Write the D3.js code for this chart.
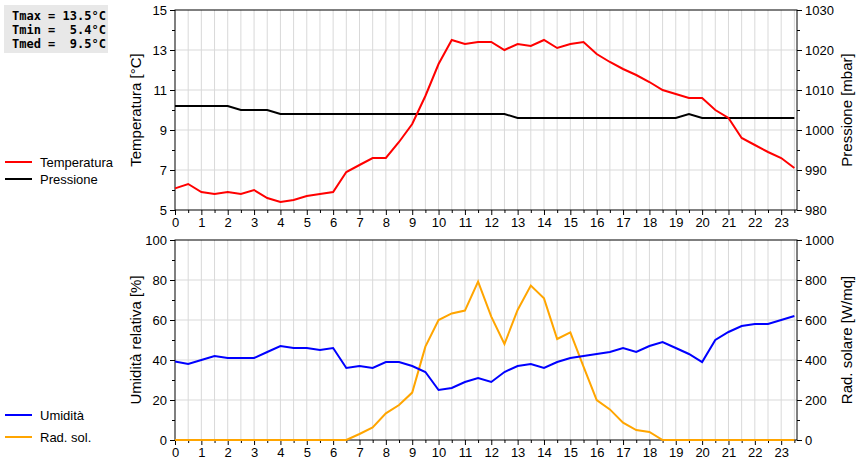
<!DOCTYPE html>
<html><head><meta charset="utf-8">
<script src="https://cdn.jsdelivr.net/npm/d3@7"></script>
<style>body{margin:0;background:#fff}svg{font-family:"Liberation Sans",Arial,sans-serif}</style>
</head><body><svg id="c" width="860" height="460"></svg>
<script>
const hours = d3.range(0, 24, 0.5);
const temperature = [6.08,6.3,5.9,5.8,5.9,5.8,6.0,5.6,5.4,5.5,5.7,5.8,5.9,6.9,7.25,7.6,7.6,8.4,9.3,10.7,12.3,13.5,13.3,13.4,13.4,13.0,13.3,13.2,13.5,13.1,13.3,13.4,12.8,12.4,12.05,11.75,11.4,11.0,10.8,10.6,10.6,10.0,9.6,8.6,8.25,7.9,7.6,7.1];
const pressure = [1006,1006,1006,1006,1006,1005,1005,1005,1004,1004,1004,1004,1004,1004,1004,1004,1004,1004,1004,1004,1004,1004,1004,1004,1004,1004,1003,1003,1003,1003,1003,1003,1003,1003,1003,1003,1003,1003,1003,1004,1003,1003,1003,1003,1003,1003,1003,1003];
const humidity = [39.2,38,40,42,41,41,41,44,47,46,46,45,46,36,37,36,39,39,37,34,25,26,29,31,29,34,37,38,36,39,41,42,43,44,46,44,47,49,46,43,39,50,54,57,58,58,60,62];
const solar = [0,0,0,0,0,0,0,0,0,0,0,0,0,0,30,63,133,175,237,467,600,633,647,792,617,480,650,772,708,505,538,367,200,153,87,50,40,0,0,0,0,0,0,0,0,0,0,0];
const xTicks = d3.range(0, 24);
const statsLines = ["Tmax = 13.5°C","Tmin =  5.4°C","Tmed =  9.5°C"];

const svg = d3.select("#c");
const L = 175, R = 797;
const x = d3.scaleLinear().domain([0, 23.6]).range([L, R]);

function panel(top, bottom, ld, rd, lMajor, lMinor, rMajor, rMinor, lTitle, rTitle, series, legend) {
  const yl = d3.scaleLinear().domain(ld).range([bottom, top]);
  const yr = d3.scaleLinear().domain(rd).range([bottom, top]);
  const g = svg.append("g");
  g.selectAll(".vg").data(d3.range(0.5, 23.6, 0.5)).join("line")
    .attr("x1", d => x(d)).attr("x2", d => x(d)).attr("y1", top).attr("y2", bottom)
    .attr("stroke", "#d9d9d9");
  g.selectAll(".hg").data(lMajor.slice(1, -1)).join("line")
    .attr("x1", L).attr("x2", R).attr("y1", d => yl(d)).attr("y2", d => yl(d))
    .attr("stroke", "#d9d9d9");
  g.append("g").attr("transform", `translate(0,${bottom})`)
    .call(d3.axisBottom(x).tickValues(xTicks).tickSize(5).tickFormat(d3.format("d")));
  g.append("g").attr("transform", `translate(0,${bottom})`)
    .call(d3.axisBottom(x).tickValues(d3.range(0.5, 23.6, 1)).tickSize(3).tickFormat(""));
  g.append("g").attr("transform", `translate(${L},0)`)
    .call(d3.axisLeft(yl).tickValues(lMajor).tickSize(5).tickFormat(d3.format("d")));
  g.append("g").attr("transform", `translate(${L},0)`)
    .call(d3.axisLeft(yl).tickValues(lMinor).tickSize(3).tickFormat(""));
  g.append("g").attr("transform", `translate(${R},0)`)
    .call(d3.axisRight(yr).tickValues(rMajor).tickSize(5).tickFormat(d3.format("d")));
  g.append("g").attr("transform", `translate(${R},0)`)
    .call(d3.axisRight(yr).tickValues(rMinor).tickSize(3).tickFormat(""));
  g.selectAll(".domain").remove();
  g.selectAll(".tick text").attr("font-size", 13).attr("fill", "#000")
    .attr("font-family", "Liberation Sans, Arial, sans-serif");
  g.append("rect").attr("x", L).attr("y", top).attr("width", R - L).attr("height", bottom - top)
    .attr("fill", "none").attr("stroke", "#000");
  series.forEach(s => {
    const y = s.right ? yr : yl;
    g.append("path").datum(s.data)
      .attr("d", d3.line().x((d, i) => x(hours[i])).y(d => y(d)))
      .attr("fill", "none").attr("stroke", s.color).attr("stroke-width", 2);
  });
  const mid = (top + bottom) / 2;
  g.append("text").attr("transform", `translate(141,${mid}) rotate(-90)`).attr("text-anchor", "middle")
    .attr("font-size", 15).text(lTitle);
  g.append("text").attr("transform", `translate(852,${mid}) rotate(-90)`).attr("text-anchor", "middle")
    .attr("font-size", 15).text(rTitle);
  legend.forEach(lg => {
    g.append("line").attr("x1", 5).attr("x2", 32).attr("y1", lg.y).attr("y2", lg.y)
      .attr("stroke", lg.color).attr("stroke-width", 2);
    g.append("text").attr("x", 40).attr("y", lg.y + 5).attr("font-size", 13).text(lg.label);
  });
}

panel(10, 210, [5, 15], [980, 1030], [5,7,9,11,13,15], [6,8,10,12,14], [980,990,1000,1010,1020,1030], [985,995,1005,1015,1025],
  "Temperatura [°C]", "Pressione [mbar]",
  [{data: pressure, color: "#000", right: true}, {data: temperature, color: "#ff0000"}],
  [{y: 162, color: "#ff0000", label: "Temperatura"}, {y: 179, color: "#000", label: "Pressione"}]);

panel(240, 440, [0, 100], [0, 1000], [0,20,40,60,80,100], [10,30,50,70,90], [0,200,400,600,800,1000], [100,300,500,700,900],
  "Umidità relativa [%]", "Rad. solare [W/mq]",
  [{data: solar, color: "#ffa500", right: true}, {data: humidity, color: "#0000ff"}],
  [{y: 415, color: "#0000ff", label: "Umidità"}, {y: 437, color: "#ffa500", label: "Rad. sol."}]);

svg.append("rect").attr("x", 4).attr("y", 5).attr("width", 104).attr("height", 48).attr("fill", "#e8e8e8");
svg.selectAll(".st").data(statsLines).join("text")
  .attr("x", 12).attr("y", (d, i) => 20 + i * 14)
  .attr("font-family", "DejaVu Sans Mono, monospace").attr("font-weight", "bold").attr("font-size", 12)
  .attr("xml:space", "preserve").style("white-space", "pre").text(d => d);
</script></body></html>
